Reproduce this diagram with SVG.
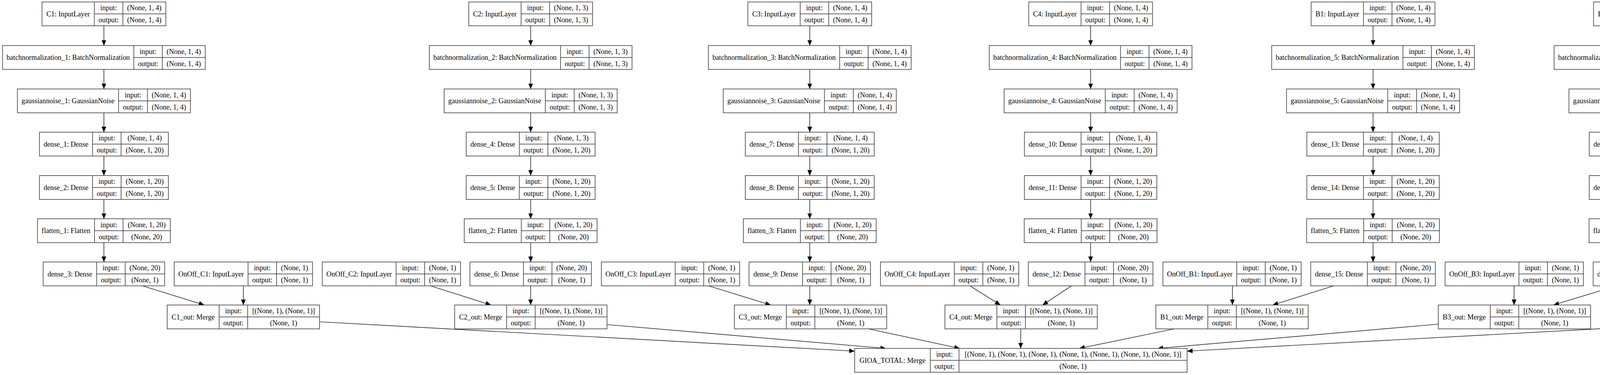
<svg xmlns="http://www.w3.org/2000/svg" xmlns:xlink="http://www.w3.org/1999/xlink" width="5229" height="959" viewBox="0 0 5229 959">
<style>
.fr{fill:#fff;stroke:#333;stroke-width:1.5}
text{font-family:"Liberation Serif","Times New Roman",serif;font-size:18.2px;fill:#000;text-anchor:middle}
#edges path{fill:none;stroke:#333;stroke-width:1.7;marker-end:url(#ah)}
</style>
<defs>
<marker id="ah" markerWidth="14" markerHeight="12" refX="14" refY="6" orient="auto" markerUnits="userSpaceOnUse"><path d="M0,0L14,6L0,12z" fill="#000" stroke="none"/></marker>
<g id="fIn" class="fr"><rect width="317" height="61"/><path d="M134 0V61M207 0V61M134 30.5H317"/></g>
<g id="fBN" class="fr"><rect width="519" height="61"/><path d="M336 0V61M409 0V61M336 30.5H519"/></g>
<g id="fGN" class="fr"><rect width="443" height="61"/><path d="M259 0V61M333 0V61M259 30.5H443"/></g>
<g id="fD1" class="fr"><rect width="330" height="61"/><path d="M136 0V61M209 0V61M136 30.5H330"/></g>
<g id="fD1w" class="fr"><rect width="339" height="61"/><path d="M145 0V61M218 0V61M145 30.5H339"/></g>
<g id="fFl" class="fr"><rect width="340" height="61"/><path d="M146 0V61M219 0V61M146 30.5H340"/></g>
<g id="fD3" class="fr"><rect width="311" height="61"/><path d="M137 0V61M210 0V61M137 30.5H311"/></g>
<g id="fD3w" class="fr"><rect width="319" height="61"/><path d="M145 0V61M218 0V61M145 30.5H319"/></g>
<g id="fOn" class="fr"><rect width="354" height="61"/><path d="M189 0V61M262 0V61M189 30.5H354"/></g>
<g id="fMg" class="fr"><rect width="390" height="61"/><path d="M133 0V61M206 0V61M133 30.5H390"/></g>
<g id="fG" class="fr"><rect width="851" height="61"/><path d="M193.5 0V61M267 0V61M193.5 30.5H851"/></g>
</defs>
<rect width="5229" height="959" fill="#fff"/>
<g id="edges">
<path d="M266 66V116.5"/><path d="M266 177.5V227.5"/><path d="M266 288.5V338"/><path d="M266 399V449"/><path d="M266 510V559.5"/><path d="M266 620.5V670"/>
<path d="M1358.5 66V116.5"/><path d="M1358.5 177.5V227.5"/><path d="M1358.5 288.5V338"/><path d="M1358.5 399V449"/><path d="M1358.5 510V559.5"/><path d="M1358.5 620.5V670"/>
<path d="M2073 66V116.5"/><path d="M2073 177.5V227.5"/><path d="M2073 288.5V338"/><path d="M2073 399V449"/><path d="M2073 510V559.5"/><path d="M2073 620.5V670"/>
<path d="M2792 66V116.5"/><path d="M2792 177.5V227.5"/><path d="M2792 288.5V338"/><path d="M2792 399V449"/><path d="M2792 510V559.5"/><path d="M2792 620.5V670"/>
<path d="M3515 66V116.5"/><path d="M3515 177.5V227.5"/><path d="M3515 288.5V338"/><path d="M3515 399V449"/><path d="M3515 510V559.5"/><path d="M3515 620.5V670"/>
<path d="M4238 66V116.5"/><path d="M4238 177.5V227.5"/><path d="M4238 288.5V338"/><path d="M4238 399V449"/><path d="M4238 510V559.5"/><path d="M4238 620.5V670"/>
<path d="M4963 66V116.5"/><path d="M4963 177.5V227.5"/><path d="M4963 288.5V338"/><path d="M4963 399V449"/><path d="M4963 510V559.5"/><path d="M4963 620.5V670"/>
<path d="M365 731L523 780"/><path d="M623 731V780"/>
<path d="M1102 731L1257 780"/><path d="M1358.5 731V780"/>
<path d="M1814 731L1973 780"/><path d="M2073 731V780"/>
<path d="M2483 731L2561 780"/><path d="M2743 731L2669 780"/>
<path d="M3155 731V780"/><path d="M3414 731L3258 780"/>
<path d="M3876 731V780"/><path d="M4138 731L3977 780"/>
<path d="M4600 731V780"/><path d="M4864 731L4705 780"/>
<path d="M818 823L2188 898"/>
<path d="M1553 830L2268 891"/>
<path d="M2223.5 841L2457 891"/>
<path d="M2613 841V891"/>
<path d="M3006 841L2763 891"/>
<path d="M3682 829L2963.5 891"/>
<path d="M4405 824L3039 898"/>
</g>
<g id="nodes">
<!-- C1 column -->
<g id="C1" transform="translate(107.5,5)"><use href="#fIn"/><text x="67" y="36.5">C1: InputLayer</text><text x="170.5" y="21">input:</text><text x="170.5" y="52">output:</text><text x="262" y="21">(None, 1, 4)</text><text x="262" y="52">(None, 1, 4)</text></g>
<g id="batchnormalization_1" transform="translate(6.5,116.5)"><use href="#fBN"/><text x="168" y="36.5">batchnormalization_1: BatchNormalization</text><text x="372.5" y="21">input:</text><text x="372.5" y="52">output:</text><text x="464" y="21">(None, 1, 4)</text><text x="464" y="52">(None, 1, 4)</text></g>
<g id="gaussiannoise_1" transform="translate(44.5,227.5)"><use href="#fGN"/><text x="129.5" y="36.5">gaussiannoise_1: GaussianNoise</text><text x="296" y="21">input:</text><text x="296" y="52">output:</text><text x="388" y="21">(None, 1, 4)</text><text x="388" y="52">(None, 1, 4)</text></g>
<g id="dense_1" transform="translate(101,338)"><use href="#fD1"/><text x="68" y="36.5">dense_1: Dense</text><text x="172.5" y="21">input:</text><text x="172.5" y="52">output:</text><text x="269.5" y="21">(None, 1, 4)</text><text x="269.5" y="52">(None, 1, 20)</text></g>
<g id="dense_2" transform="translate(101,449)"><use href="#fD1"/><text x="68" y="36.5">dense_2: Dense</text><text x="172.5" y="21">input:</text><text x="172.5" y="52">output:</text><text x="269.5" y="21">(None, 1, 20)</text><text x="269.5" y="52">(None, 1, 20)</text></g>
<g id="flatten_1" transform="translate(96,559.5)"><use href="#fFl"/><text x="73" y="36.5">flatten_1: Flatten</text><text x="182.5" y="21">input:</text><text x="182.5" y="52">output:</text><text x="279.5" y="21">(None, 1, 20)</text><text x="279.5" y="52">(None, 20)</text></g>
<g id="dense_3" transform="translate(110.5,670)"><use href="#fD3"/><text x="68.5" y="36.5">dense_3: Dense</text><text x="173.5" y="21">input:</text><text x="173.5" y="52">output:</text><text x="260.5" y="21">(None, 20)</text><text x="260.5" y="52">(None, 1)</text></g>
<!-- C2 column -->
<g id="C2" transform="translate(1200,5)"><use href="#fIn"/><text x="67" y="36.5">C2: InputLayer</text><text x="170.5" y="21">input:</text><text x="170.5" y="52">output:</text><text x="262" y="21">(None, 1, 3)</text><text x="262" y="52">(None, 1, 3)</text></g>
<g id="batchnormalization_2" transform="translate(1099,116.5)"><use href="#fBN"/><text x="168" y="36.5">batchnormalization_2: BatchNormalization</text><text x="372.5" y="21">input:</text><text x="372.5" y="52">output:</text><text x="464" y="21">(None, 1, 3)</text><text x="464" y="52">(None, 1, 3)</text></g>
<g id="gaussiannoise_2" transform="translate(1137,227.5)"><use href="#fGN"/><text x="129.5" y="36.5">gaussiannoise_2: GaussianNoise</text><text x="296" y="21">input:</text><text x="296" y="52">output:</text><text x="388" y="21">(None, 1, 3)</text><text x="388" y="52">(None, 1, 3)</text></g>
<g id="dense_4" transform="translate(1193.5,338)"><use href="#fD1"/><text x="68" y="36.5">dense_4: Dense</text><text x="172.5" y="21">input:</text><text x="172.5" y="52">output:</text><text x="269.5" y="21">(None, 1, 3)</text><text x="269.5" y="52">(None, 1, 20)</text></g>
<g id="dense_5" transform="translate(1193.5,449)"><use href="#fD1"/><text x="68" y="36.5">dense_5: Dense</text><text x="172.5" y="21">input:</text><text x="172.5" y="52">output:</text><text x="269.5" y="21">(None, 1, 20)</text><text x="269.5" y="52">(None, 1, 20)</text></g>
<g id="flatten_2" transform="translate(1188.5,559.5)"><use href="#fFl"/><text x="73" y="36.5">flatten_2: Flatten</text><text x="182.5" y="21">input:</text><text x="182.5" y="52">output:</text><text x="279.5" y="21">(None, 1, 20)</text><text x="279.5" y="52">(None, 20)</text></g>
<g id="dense_6" transform="translate(1203,670)"><use href="#fD3"/><text x="68.5" y="36.5">dense_6: Dense</text><text x="173.5" y="21">input:</text><text x="173.5" y="52">output:</text><text x="260.5" y="21">(None, 20)</text><text x="260.5" y="52">(None, 1)</text></g>
<!-- C3 column -->
<g id="C3" transform="translate(1914.5,5)"><use href="#fIn"/><text x="67" y="36.5">C3: InputLayer</text><text x="170.5" y="21">input:</text><text x="170.5" y="52">output:</text><text x="262" y="21">(None, 1, 4)</text><text x="262" y="52">(None, 1, 4)</text></g>
<g id="batchnormalization_3" transform="translate(1813.5,116.5)"><use href="#fBN"/><text x="168" y="36.5">batchnormalization_3: BatchNormalization</text><text x="372.5" y="21">input:</text><text x="372.5" y="52">output:</text><text x="464" y="21">(None, 1, 4)</text><text x="464" y="52">(None, 1, 4)</text></g>
<g id="gaussiannoise_3" transform="translate(1851.5,227.5)"><use href="#fGN"/><text x="129.5" y="36.5">gaussiannoise_3: GaussianNoise</text><text x="296" y="21">input:</text><text x="296" y="52">output:</text><text x="388" y="21">(None, 1, 4)</text><text x="388" y="52">(None, 1, 4)</text></g>
<g id="dense_7" transform="translate(1908,338)"><use href="#fD1"/><text x="68" y="36.5">dense_7: Dense</text><text x="172.5" y="21">input:</text><text x="172.5" y="52">output:</text><text x="269.5" y="21">(None, 1, 4)</text><text x="269.5" y="52">(None, 1, 20)</text></g>
<g id="dense_8" transform="translate(1908,449)"><use href="#fD1"/><text x="68" y="36.5">dense_8: Dense</text><text x="172.5" y="21">input:</text><text x="172.5" y="52">output:</text><text x="269.5" y="21">(None, 1, 20)</text><text x="269.5" y="52">(None, 1, 20)</text></g>
<g id="flatten_3" transform="translate(1903,559.5)"><use href="#fFl"/><text x="73" y="36.5">flatten_3: Flatten</text><text x="182.5" y="21">input:</text><text x="182.5" y="52">output:</text><text x="279.5" y="21">(None, 1, 20)</text><text x="279.5" y="52">(None, 20)</text></g>
<g id="dense_9" transform="translate(1917.5,670)"><use href="#fD3"/><text x="68.5" y="36.5">dense_9: Dense</text><text x="173.5" y="21">input:</text><text x="173.5" y="52">output:</text><text x="260.5" y="21">(None, 20)</text><text x="260.5" y="52">(None, 1)</text></g>
<!-- C4 column -->
<g id="C4" transform="translate(2633.5,5)"><use href="#fIn"/><text x="67" y="36.5">C4: InputLayer</text><text x="170.5" y="21">input:</text><text x="170.5" y="52">output:</text><text x="262" y="21">(None, 1, 4)</text><text x="262" y="52">(None, 1, 4)</text></g>
<g id="batchnormalization_4" transform="translate(2532.5,116.5)"><use href="#fBN"/><text x="168" y="36.5">batchnormalization_4: BatchNormalization</text><text x="372.5" y="21">input:</text><text x="372.5" y="52">output:</text><text x="464" y="21">(None, 1, 4)</text><text x="464" y="52">(None, 1, 4)</text></g>
<g id="gaussiannoise_4" transform="translate(2570.5,227.5)"><use href="#fGN"/><text x="129.5" y="36.5">gaussiannoise_4: GaussianNoise</text><text x="296" y="21">input:</text><text x="296" y="52">output:</text><text x="388" y="21">(None, 1, 4)</text><text x="388" y="52">(None, 1, 4)</text></g>
<g id="dense_10" transform="translate(2622.5,338)"><use href="#fD1w"/><text x="72.5" y="36.5">dense_10: Dense</text><text x="181.5" y="21">input:</text><text x="181.5" y="52">output:</text><text x="278.5" y="21">(None, 1, 4)</text><text x="278.5" y="52">(None, 1, 20)</text></g>
<g id="dense_11" transform="translate(2622.5,449)"><use href="#fD1w"/><text x="72.5" y="36.5">dense_11: Dense</text><text x="181.5" y="21">input:</text><text x="181.5" y="52">output:</text><text x="278.5" y="21">(None, 1, 20)</text><text x="278.5" y="52">(None, 1, 20)</text></g>
<g id="flatten_4" transform="translate(2622,559.5)"><use href="#fFl"/><text x="73" y="36.5">flatten_4: Flatten</text><text x="182.5" y="21">input:</text><text x="182.5" y="52">output:</text><text x="279.5" y="21">(None, 1, 20)</text><text x="279.5" y="52">(None, 20)</text></g>
<g id="dense_12" transform="translate(2632.5,670)"><use href="#fD3w"/><text x="72.5" y="36.5">dense_12: Dense</text><text x="181.5" y="21">input:</text><text x="181.5" y="52">output:</text><text x="268.5" y="21">(None, 20)</text><text x="268.5" y="52">(None, 1)</text></g>
<!-- B1 column -->
<g id="B1" transform="translate(3356.5,5)"><use href="#fIn"/><text x="67" y="36.5">B1: InputLayer</text><text x="170.5" y="21">input:</text><text x="170.5" y="52">output:</text><text x="262" y="21">(None, 1, 4)</text><text x="262" y="52">(None, 1, 4)</text></g>
<g id="batchnormalization_5" transform="translate(3255.5,116.5)"><use href="#fBN"/><text x="168" y="36.5">batchnormalization_5: BatchNormalization</text><text x="372.5" y="21">input:</text><text x="372.5" y="52">output:</text><text x="464" y="21">(None, 1, 4)</text><text x="464" y="52">(None, 1, 4)</text></g>
<g id="gaussiannoise_5" transform="translate(3293.5,227.5)"><use href="#fGN"/><text x="129.5" y="36.5">gaussiannoise_5: GaussianNoise</text><text x="296" y="21">input:</text><text x="296" y="52">output:</text><text x="388" y="21">(None, 1, 4)</text><text x="388" y="52">(None, 1, 4)</text></g>
<g id="dense_13" transform="translate(3345.5,338)"><use href="#fD1w"/><text x="72.5" y="36.5">dense_13: Dense</text><text x="181.5" y="21">input:</text><text x="181.5" y="52">output:</text><text x="278.5" y="21">(None, 1, 4)</text><text x="278.5" y="52">(None, 1, 20)</text></g>
<g id="dense_14" transform="translate(3345.5,449)"><use href="#fD1w"/><text x="72.5" y="36.5">dense_14: Dense</text><text x="181.5" y="21">input:</text><text x="181.5" y="52">output:</text><text x="278.5" y="21">(None, 1, 20)</text><text x="278.5" y="52">(None, 1, 20)</text></g>
<g id="flatten_5" transform="translate(3345,559.5)"><use href="#fFl"/><text x="73" y="36.5">flatten_5: Flatten</text><text x="182.5" y="21">input:</text><text x="182.5" y="52">output:</text><text x="279.5" y="21">(None, 1, 20)</text><text x="279.5" y="52">(None, 20)</text></g>
<g id="dense_15" transform="translate(3355.5,670)"><use href="#fD3w"/><text x="72.5" y="36.5">dense_15: Dense</text><text x="181.5" y="21">input:</text><text x="181.5" y="52">output:</text><text x="268.5" y="21">(None, 20)</text><text x="268.5" y="52">(None, 1)</text></g>
<!-- B3 column -->
<g id="B3" transform="translate(4079.5,5)"><use href="#fIn"/><text x="67" y="36.5">B3: InputLayer</text><text x="170.5" y="21">input:</text><text x="170.5" y="52">output:</text><text x="262" y="21">(None, 1, 4)</text><text x="262" y="52">(None, 1, 4)</text></g>
<g id="batchnormalization_6" transform="translate(3978.5,116.5)"><use href="#fBN"/><text x="168" y="36.5">batchnormalization_6: BatchNormalization</text><text x="372.5" y="21">input:</text><text x="372.5" y="52">output:</text><text x="464" y="21">(None, 1, 4)</text><text x="464" y="52">(None, 1, 4)</text></g>
<g id="gaussiannoise_6" transform="translate(4016.5,227.5)"><use href="#fGN"/><text x="129.5" y="36.5">gaussiannoise_6: GaussianNoise</text><text x="296" y="21">input:</text><text x="296" y="52">output:</text><text x="388" y="21">(None, 1, 4)</text><text x="388" y="52">(None, 1, 4)</text></g>
<g id="dense_16" transform="translate(4068.5,338)"><use href="#fD1w"/><text x="72.5" y="36.5">dense_16: Dense</text><text x="181.5" y="21">input:</text><text x="181.5" y="52">output:</text><text x="278.5" y="21">(None, 1, 4)</text><text x="278.5" y="52">(None, 1, 20)</text></g>
<g id="dense_17" transform="translate(4068.5,449)"><use href="#fD1w"/><text x="72.5" y="36.5">dense_17: Dense</text><text x="181.5" y="21">input:</text><text x="181.5" y="52">output:</text><text x="278.5" y="21">(None, 1, 20)</text><text x="278.5" y="52">(None, 1, 20)</text></g>
<g id="flatten_6" transform="translate(4068,559.5)"><use href="#fFl"/><text x="73" y="36.5">flatten_6: Flatten</text><text x="182.5" y="21">input:</text><text x="182.5" y="52">output:</text><text x="279.5" y="21">(None, 1, 20)</text><text x="279.5" y="52">(None, 20)</text></g>
<g id="dense_18" transform="translate(4078.5,670)"><use href="#fD3w"/><text x="72.5" y="36.5">dense_18: Dense</text><text x="181.5" y="21">input:</text><text x="181.5" y="52">output:</text><text x="268.5" y="21">(None, 20)</text><text x="268.5" y="52">(None, 1)</text></g>
<!-- D1 column -->
<g id="D1" transform="translate(4804.5,5)"><use href="#fIn"/><text x="67" y="36.5">D1: InputLayer</text><text x="170.5" y="21">input:</text><text x="170.5" y="52">output:</text><text x="262" y="21">(None, 1, 3)</text><text x="262" y="52">(None, 1, 3)</text></g>
<g id="batchnormalization_7" transform="translate(4703.5,116.5)"><use href="#fBN"/><text x="168" y="36.5">batchnormalization_7: BatchNormalization</text><text x="372.5" y="21">input:</text><text x="372.5" y="52">output:</text><text x="464" y="21">(None, 1, 3)</text><text x="464" y="52">(None, 1, 3)</text></g>
<g id="gaussiannoise_7" transform="translate(4741.5,227.5)"><use href="#fGN"/><text x="129.5" y="36.5">gaussiannoise_7: GaussianNoise</text><text x="296" y="21">input:</text><text x="296" y="52">output:</text><text x="388" y="21">(None, 1, 3)</text><text x="388" y="52">(None, 1, 3)</text></g>
<g id="dense_19" transform="translate(4793.5,338)"><use href="#fD1w"/><text x="72.5" y="36.5">dense_19: Dense</text><text x="181.5" y="21">input:</text><text x="181.5" y="52">output:</text><text x="278.5" y="21">(None, 1, 3)</text><text x="278.5" y="52">(None, 1, 20)</text></g>
<g id="dense_20" transform="translate(4793.5,449)"><use href="#fD1w"/><text x="72.5" y="36.5">dense_20: Dense</text><text x="181.5" y="21">input:</text><text x="181.5" y="52">output:</text><text x="278.5" y="21">(None, 1, 20)</text><text x="278.5" y="52">(None, 1, 20)</text></g>
<g id="flatten_7" transform="translate(4793,559.5)"><use href="#fFl"/><text x="73" y="36.5">flatten_7: Flatten</text><text x="182.5" y="21">input:</text><text x="182.5" y="52">output:</text><text x="279.5" y="21">(None, 1, 20)</text><text x="279.5" y="52">(None, 20)</text></g>
<g id="dense_21" transform="translate(4803.5,670)"><use href="#fD3w"/><text x="72.5" y="36.5">dense_21: Dense</text><text x="181.5" y="21">input:</text><text x="181.5" y="52">output:</text><text x="268.5" y="21">(None, 20)</text><text x="268.5" y="52">(None, 1)</text></g>
<!-- OnOff inputs -->
<g id="OnOff_C1" transform="translate(446,670)"><use href="#fOn"/><text x="94.5" y="36.5">OnOff_C1: InputLayer</text><text x="225.5" y="21">input:</text><text x="225.5" y="52">output:</text><text x="308" y="21">(None, 1)</text><text x="308" y="52">(None, 1)</text></g>
<g id="OnOff_C2" transform="translate(825,670)"><use href="#fOn"/><text x="94.5" y="36.5">OnOff_C2: InputLayer</text><text x="225.5" y="21">input:</text><text x="225.5" y="52">output:</text><text x="308" y="21">(None, 1)</text><text x="308" y="52">(None, 1)</text></g>
<g id="OnOff_C3" transform="translate(1539.5,670)"><use href="#fOn"/><text x="94.5" y="36.5">OnOff_C3: InputLayer</text><text x="225.5" y="21">input:</text><text x="225.5" y="52">output:</text><text x="308" y="21">(None, 1)</text><text x="308" y="52">(None, 1)</text></g>
<g id="OnOff_C4" transform="translate(2254,670)"><use href="#fOn"/><text x="94.5" y="36.5">OnOff_C4: InputLayer</text><text x="225.5" y="21">input:</text><text x="225.5" y="52">output:</text><text x="308" y="21">(None, 1)</text><text x="308" y="52">(None, 1)</text></g>
<g id="OnOff_B1" transform="translate(2977,670)"><use href="#fOn"/><text x="94.5" y="36.5">OnOff_B1: InputLayer</text><text x="225.5" y="21">input:</text><text x="225.5" y="52">output:</text><text x="308" y="21">(None, 1)</text><text x="308" y="52">(None, 1)</text></g>
<g id="OnOff_B3" transform="translate(3699.5,670)"><use href="#fOn"/><text x="94.5" y="36.5">OnOff_B3: InputLayer</text><text x="225.5" y="21">input:</text><text x="225.5" y="52">output:</text><text x="308" y="21">(None, 1)</text><text x="308" y="52">(None, 1)</text></g>
<g id="OnOff_D1" transform="translate(4423.5,670)"><use href="#fOn"/><text x="94.5" y="36.5">OnOff_D1: InputLayer</text><text x="225.5" y="21">input:</text><text x="225.5" y="52">output:</text><text x="308" y="21">(None, 1)</text><text x="308" y="52">(None, 1)</text></g>
<!-- Merge nodes -->
<g id="C1_out" transform="translate(428,780)"><use href="#fMg"/><text x="66.5" y="36.5">C1_out: Merge</text><text x="169.5" y="21">input:</text><text x="169.5" y="52">output:</text><text x="298" y="21">[(None, 1), (None, 1)]</text><text x="298" y="52">(None, 1)</text></g>
<g id="C2_out" transform="translate(1164,780)"><use href="#fMg"/><text x="66.5" y="36.5">C2_out: Merge</text><text x="169.5" y="21">input:</text><text x="169.5" y="52">output:</text><text x="298" y="21">[(None, 1), (None, 1)]</text><text x="298" y="52">(None, 1)</text></g>
<g id="C3_out" transform="translate(1880,780)"><use href="#fMg"/><text x="66.5" y="36.5">C3_out: Merge</text><text x="169.5" y="21">input:</text><text x="169.5" y="52">output:</text><text x="298" y="21">[(None, 1), (None, 1)]</text><text x="298" y="52">(None, 1)</text></g>
<g id="C4_out" transform="translate(2419,780)"><use href="#fMg"/><text x="66.5" y="36.5">C4_out: Merge</text><text x="169.5" y="21">input:</text><text x="169.5" y="52">output:</text><text x="298" y="21">[(None, 1), (None, 1)]</text><text x="298" y="52">(None, 1)</text></g>
<g id="B1_out" transform="translate(2959,780)"><use href="#fMg"/><text x="66.5" y="36.5">B1_out: Merge</text><text x="169.5" y="21">input:</text><text x="169.5" y="52">output:</text><text x="298" y="21">[(None, 1), (None, 1)]</text><text x="298" y="52">(None, 1)</text></g>
<g id="B3_out" transform="translate(3682,780)"><use href="#fMg"/><text x="66.5" y="36.5">B3_out: Merge</text><text x="169.5" y="21">input:</text><text x="169.5" y="52">output:</text><text x="298" y="21">[(None, 1), (None, 1)]</text><text x="298" y="52">(None, 1)</text></g>
<g id="D1_out" transform="translate(4405,780)"><use href="#fMg"/><text x="66.5" y="36.5">D1_out: Merge</text><text x="169.5" y="21">input:</text><text x="169.5" y="52">output:</text><text x="298" y="21">[(None, 1), (None, 1)]</text><text x="298" y="52">(None, 1)</text></g>
<!-- Total -->
<g id="GIOA_TOTAL" transform="translate(2188,891)"><use href="#fG"/><text x="96.75" y="36.5">GIOA_TOTAL: Merge</text><text x="230" y="21">input:</text><text x="230" y="52">output:</text><text x="559" y="21">[(None, 1), (None, 1), (None, 1), (None, 1), (None, 1), (None, 1), (None, 1)]</text><text x="559" y="52">(None, 1)</text></g>
</g>
</svg>
